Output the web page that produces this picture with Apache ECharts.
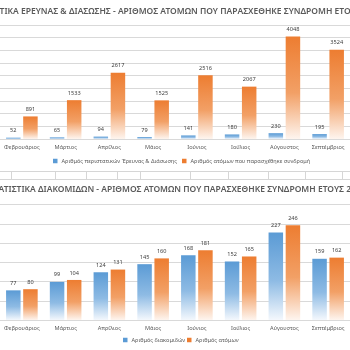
<!DOCTYPE html>
<html><head><meta charset="utf-8">
<script src="https://cdn.jsdelivr.net/npm/echarts@6/dist/echarts.min.js"></script>
<style>html,body{margin:0;padding:0;background:#fff}#c{width:350px;height:350px}</style>
</head><body><div id="c"></div>
<script>
const months = ['Φεβρουάριος','Μάρτιος','Απρίλιος','Μάιος','Ιούνιος','Ιούλιος','Αύγουστος','Σεπτέμβριος'];
const rescueIncidents = [52,65,94,79,141,180,230,195];
const rescuePeople = [891,1533,2617,1525,2516,2067,4048,3524];
const transfers = [77,99,124,145,168,152,227,159];
const transferPeople = [80,104,131,160,181,165,246,162];
const title1 = 'ΣΤΑΤΙΣΤΙΚΑ ΕΡΕΥΝΑΣ & ΔΙΑΣΩΣΗΣ - ΑΡΙΘΜΟΣ ΑΤΟΜΩΝ ΠΟΥ ΠΑΡΑΣΧΕΘΗΚΕ ΣΥΝΔΡΟΜΗ ΕΤΟΥΣ 2019';
const title2 = 'ΣΤΑΤΙΣΤΙΚΑ ΔΙΑΚΟΜΙΔΩΝ - ΑΡΙΘΜΟΣ ΑΤΟΜΩΝ ΠΟΥ ΠΑΡΑΣΧΕΘΗΚΕ ΣΥΝΔΡΟΜΗ ΕΤΟΥΣ 2019';
const names = ['Αριθμός περιστατικών Έρευνας & Διάσωσης','Αριθμός ατόμων που παρασχέθηκε συνδρομή','Αριθμός διακομιδών','Αριθμός ατόμων'];

const FONT = 'Noto Sans';
const FS = 5.6;
const BLUE = '#5B9BD5', ORANGE = '#ED7D31';

// title layout: measure text so the visible part lands where it sits in the reference
const ctx = document.createElement('canvas').getContext('2d');
function tw(s, size){ ctx.font = '600 ' + size + 'px "Noto Sans"'; return ctx.measureText(s).width; }
const w1 = tw('ΕΡΕΥΝΑΣ & ΔΙΑΣΩΣΗΣ - ΑΡΙΘΜΟΣ ΑΤΟΜΩΝ ΠΟΥ ΠΑΡΑΣΧΕΘΗΚΕ ΣΥΝΔΡΟΜΗ ΕΤ', 10);
const w2 = tw('ΔΙΑΚΟΜΙΔΩΝ - ΑΡΙΘΜΟΣ ΑΤΟΜΩΝ ΠΟΥ ΠΑΡΑΣΧΕΘΗΚΕ ΣΥΝΔΡΟΜΗ ΕΤΟΥΣ ', 10);
const TS = Math.round(((324 / w1) * 10 + (307 / w2) * 10) / 2 * 10) / 10;
const t1Left = 21 - tw('ΣΤΑΤΙΣΤΙΚΑ ', TS);
const t2Left = 38 - tw('ΣΤΑΤΙΣΤΙΚΑ ', TS);

function grad(c0, c1, c2) {
  return new echarts.graphic.LinearGradient(0,0,0,1,[{offset:0,color:c0},{offset:0.55,color:c1},{offset:1,color:c2}]);
}
const blueFill = () => grad(BLUE, '#8EBBE4', '#F4F8FD');
const orangeFill = () => grad(ORANGE, '#F2A066', '#FEF5EF');

const chart = echarts.init(document.getElementById('c'), null, {renderer:'canvas'});
const lbl = {show:true, position:'top', distance:4, fontSize:FS, color:'#404040', fontFamily:FONT};
function xAx(i){ return {type:'category', gridIndex:i, data:months, axisTick:{show:false},
  axisLine:{lineStyle:{color:'#d9d9d9'}},
  axisLabel:{interval:0, fontSize:FS, color:'#595959', fontFamily:FONT, margin:5}}; }
function yAx(i,max,iv){ return {type:'value', gridIndex:i, min:0, max:max, interval:iv,
  axisLabel:{show:false}, axisLine:{show:false}, axisTick:{show:false},
  splitLine:{lineStyle:{color:'#d9d9d9'}}}; }
function leg(name, color, left, top){ return {data:[{name:name, itemStyle:{color:color}}], left:left, top:top,
  icon:'rect', itemWidth:4.5, itemHeight:4.5, itemGap:4, padding:0,
  textStyle:{fontSize:FS, color:'#595959', fontFamily:FONT, padding:[0,0,0,-1]}}; }

const cellX = [11,55,86,117,140,190,228,268,305,342];
const graphics = [
  {type:'line', shape:{x1:0,y1:171.5,x2:350,y2:171.5}, style:{stroke:'#d6d6d6', lineWidth:1}},
  {type:'line', shape:{x1:0,y1:179.5,x2:350,y2:179.5}, style:{stroke:'#d6d6d6', lineWidth:1}}
].concat(cellX.map(x => ({type:'line', shape:{x1:x+0.5,y1:171,x2:x+0.5,y2:180}, style:{stroke:'#d6d6d6', lineWidth:1}})));

chart.setOption({
  animation:false,
  backgroundColor:'#fff',
  title:[
    {text:title1, left:t1Left, top:7, padding:0, textStyle:{fontSize:TS, fontWeight:600, color:'#595959', fontFamily:FONT}},
    {text:title2, left:t2Left, top:185, padding:0, textStyle:{fontSize:TS, fontWeight:600, color:'#595959', fontFamily:FONT}}
  ],
  legend:[
    leg(names[0], BLUE, 53, 158),
    leg(names[1], ORANGE, 182, 158),
    leg(names[2], BLUE, 123, 337),
    leg(names[3], ORANGE, 187, 337)
  ],
  grid:[
    {left:-8, width:370, top:25, height:114},
    {left:-8, width:370, top:204.5, height:115.5}
  ],
  xAxis:[xAx(0), xAx(1)],
  yAxis:[yAx(0,4500,500), yAx(1,300,50)],
  graphic:graphics,
  series:[
    {name:names[0], type:'bar', xAxisIndex:0, yAxisIndex:0, data:rescueIncidents, barWidth:14.5, barGap:'18%', itemStyle:{color:blueFill()}, label:lbl},
    {name:names[1], type:'bar', xAxisIndex:0, yAxisIndex:0, data:rescuePeople, barWidth:14.5, barGap:'18%', itemStyle:{color:orangeFill()}, label:lbl},
    {name:names[2], type:'bar', xAxisIndex:1, yAxisIndex:1, data:transfers, barWidth:14.5, barGap:'18%', itemStyle:{color:blueFill()}, label:lbl},
    {name:names[3], type:'bar', xAxisIndex:1, yAxisIndex:1, data:transferPeople, barWidth:14.5, barGap:'18%', itemStyle:{color:orangeFill()}, label:lbl}
  ]
});
</script></body></html>
